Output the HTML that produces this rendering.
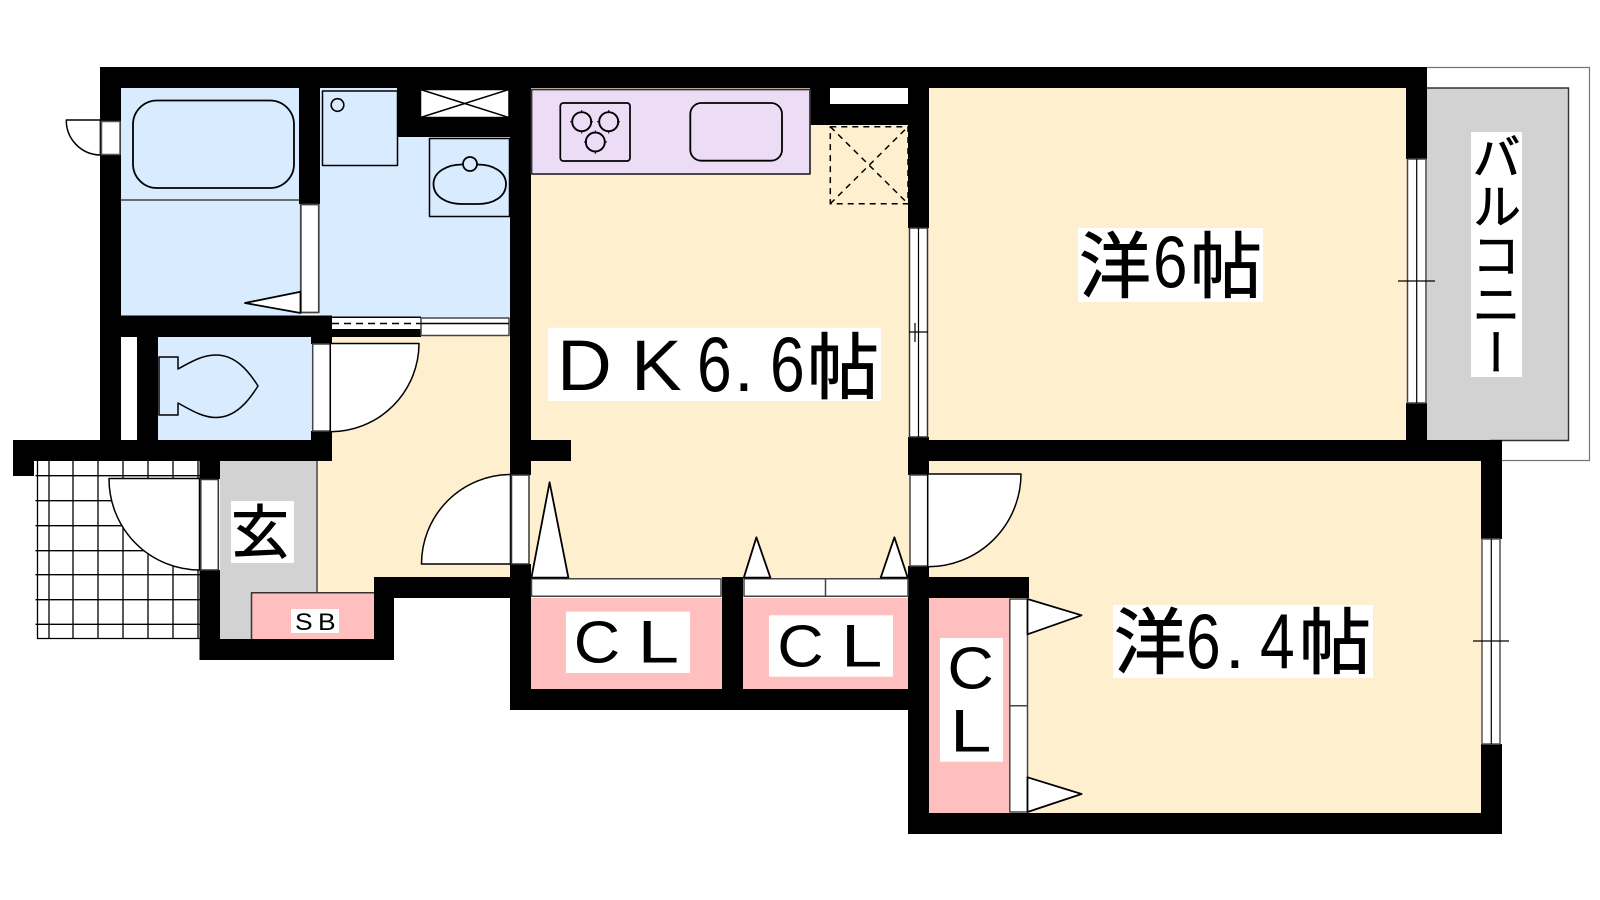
<!DOCTYPE html>
<html lang="ja"><head><meta charset="utf-8"><title>間取り図</title>
<style>
html,body{margin:0;padding:0;background:#fff;width:1600px;height:900px;overflow:hidden}
svg{display:block;position:absolute;left:0;top:0}
.l{font-family:"Liberation Sans",sans-serif;fill:#000}
.j{font-family:"Liberation Sans","Noto Sans CJK JP",sans-serif;fill:#000;stroke:#000;stroke-width:.9}
.v{position:absolute;left:1471px;top:132px;width:51px;height:245px;background:#fff;writing-mode:vertical-rl;font:49px/51px "Noto Sans CJK JP",sans-serif;color:#000;-webkit-text-stroke:.8px #000;text-align:center;white-space:nowrap;overflow:hidden}
</style></head><body>
<svg width="1600" height="900" viewBox="0 0 1600 900" xmlns="http://www.w3.org/2000/svg">
<!-- room fills -->
<g stroke="none">
<rect x="121" y="88" width="180" height="229" fill="#d9ebff"/>
<rect x="320" y="88" width="190" height="229" fill="#d9ebff"/>
<rect x="158" y="336" width="154" height="105" fill="#d9ebff"/>
<rect x="317" y="336" width="194" height="242" fill="#fef0cf"/>
<rect x="317" y="570" width="58" height="24" fill="#fef0cf"/>
<rect x="220" y="460" width="97" height="180" fill="#d2d2d2"/>
<rect x="530" y="88" width="380" height="490" fill="#fef0cf"/>
<rect x="928" y="88" width="480" height="353" fill="#fef0cf"/>
<rect x="928" y="460" width="554" height="118" fill="#fef0cf"/>
<rect x="1028" y="577" width="454" height="237" fill="#fef0cf"/>
<rect x="530" y="598" width="192" height="92" fill="#ffbfbf"/>
<rect x="743" y="598" width="165" height="92" fill="#ffbfbf"/>
<rect x="928" y="598" width="81" height="215" fill="#ffbfbf"/>
<rect x="1427" y="88" width="141" height="352" fill="#d2d2d2"/>
</g>
<!-- balcony outlines -->
<path d="M1427 67.500H1589.500V460.500H1502" fill="none" stroke="#777" stroke-width="1.200"/>
<path d="M1427 88H1568.500V440.500H1490" fill="none" stroke="#333" stroke-width="1.400"/>
<!-- tile grid -->
<g stroke="#000" stroke-width="1.300" fill="none">
<path d="M37.500 461V638.500H200M49 461V638M73 461V638M98 461V638M123 461V638M148 461V638M173 461V638M198 461V638"/>
<path d="M35.500 475.700H200M35.500 500.700H200M35.500 525.700H200M35.500 550.700H200M35.500 574.700H200M35.500 599.700H200M35.500 624.300H200"/>
</g>
<!-- walls -->
<g fill="#000" stroke="none">
<rect x="100" y="67" width="1327" height="21"/>
<rect x="100" y="67" width="21" height="394"/>
<rect x="299" y="67" width="21" height="137"/>
<rect x="397" y="67" width="113" height="70"/>
<rect x="510" y="67" width="21" height="408"/>
<rect x="510" y="564" width="21" height="146"/>
<rect x="510" y="440" width="61" height="21"/>
<rect x="810" y="67" width="98" height="58"/>
<rect x="908" y="67" width="21" height="161"/>
<rect x="908" y="437" width="21" height="38"/>
<rect x="908" y="566" width="21" height="268"/>
<rect x="1406" y="67" width="21" height="92"/>
<rect x="1406" y="403" width="21" height="38"/>
<rect x="908" y="440" width="594" height="21"/>
<rect x="1481" y="440" width="21" height="99"/>
<rect x="1481" y="744" width="21" height="90"/>
<rect x="908" y="813" width="594" height="21"/>
<rect x="928" y="577" width="101" height="21"/>
<rect x="100" y="315.500" width="232" height="21.500"/>
<rect x="332" y="329" width="89" height="8"/>
<rect x="311" y="316" width="21" height="28"/>
<rect x="137" y="337" width="21" height="104"/>
<rect x="13" y="440" width="319" height="21"/>
<rect x="13" y="440" width="21" height="36"/>
<rect x="311" y="431" width="21" height="30"/>
<rect x="199.500" y="461" width="20.500" height="18"/>
<rect x="199.500" y="570" width="20.500" height="90"/>
<rect x="199.500" y="639" width="194.500" height="21"/>
<rect x="374" y="577" width="20" height="83"/>
<rect x="374" y="577" width="136" height="21"/>
<rect x="510" y="689" width="398" height="21"/>
<rect x="722" y="577" width="21" height="113"/>
</g>
<!-- fixtures, doors -->
<g fill="#fff" stroke="#000" stroke-width="1.500" stroke-linejoin="round">
<path d="M100.400 120H66.300A34.500 34.500 0 0 0 100.400 155Z"/>
<rect x="101.500" y="121.500" width="18.500" height="33" stroke="#555"/>
<path d="M121 200H299" stroke="#444"/>
<rect x="133" y="100.500" width="161" height="87.500" rx="24" fill="none" stroke-width="1.800"/>
<rect x="300.800" y="204.500" width="18" height="108" stroke="#444" stroke-width="1.800"/>
<path d="M245 303L300.500 291.700V313Z" stroke-width="1.800"/>
<rect x="322.500" y="91" width="75" height="74.500" fill="none" stroke-width="1.500"/>
<circle cx="337.500" cy="105" r="6.300" fill="none" stroke-width="1.600"/>
<rect x="420.500" y="89.500" width="88.500" height="28"/>
<path d="M420.500 89.500L509 117.500M420.500 117.500L509 89.500" fill="none" stroke-width="1.500"/>
<rect x="429.500" y="138.500" width="80" height="78" fill="none"/>
<path d="M433.500 184C433.500 172 447 164.500 462 164.500H478C493 164.500 506 172 506 184C506 197 493 204 478 204H462C447 204 433.500 197 433.500 184Z" fill="none" stroke-width="1.800"/>
<circle cx="470" cy="164" r="7" fill="#d9ebff" stroke-width="1.800"/>
<rect x="332" y="317" width="89" height="12" stroke="none"/>
<rect x="421" y="318" width="88" height="17.500" stroke="#444"/>
<path d="M332 317.300H421M421 323.500H509" fill="none"/>
<path d="M332 323.500H421" fill="none" stroke-dasharray="7 5"/>
<path d="M159 357V415H178V403C194 412 204 417.500 216 417.500C235 417.500 248 402 258 386C248 370 235 355 216 355C204 355 194 360 178 369V357Z" fill="none" stroke-width="1.500"/>
<rect x="312.700" y="344" width="17.500" height="87" stroke="#444"/>
<path d="M330.300 343.500H419A88.500 88.500 0 0 1 330.300 431.700Z"/>
<path d="M199.500 478.500H109A91 91 0 0 0 199.500 570Z"/>
<rect x="200.800" y="479.500" width="17.500" height="90.500" stroke="#333"/>
<path d="M317 461V592.500" fill="none" stroke="#444"/>
<rect x="252" y="593" width="122" height="46" fill="#ffbfbf" stroke="none"/>
<path d="M251.500 639V592.700H374" fill="none" stroke="#333"/>
<path d="M510.500 474.500A89.500 89.500 0 0 0 421.500 564H510.500Z"/>
<rect x="511.500" y="475" width="17.500" height="89" stroke="#333"/>
<rect x="531.500" y="89.500" width="278.500" height="84.500" fill="#eddcf5" stroke="#333" stroke-width="1.800"/>
<rect x="560.300" y="103" width="69.700" height="58" rx="3" fill="none" stroke-width="1.700"/>
<g fill="none" stroke-width="1.900"><circle cx="581.700" cy="121.700" r="9.500"/><circle cx="608.700" cy="121.700" r="9.500"/><circle cx="595.300" cy="142" r="9.500"/></g>
<path d="M570 121.700h3M590 121.700h3M581.700 110v3M581.700 130.500v3M597 121.700h3M617 121.700h3M608.700 110v3M608.700 130.500v3M584 142h3M604 142h3M595.300 130.500v3M595.300 151v3" fill="none" stroke-width="1"/>
<rect x="690.300" y="103" width="91.700" height="57.700" rx="11" fill="none" stroke-width="1.800"/>
<rect x="830" y="88" width="78" height="16" stroke="none"/>
<g fill="none" stroke-width="1.500" stroke-dasharray="6 5">
<rect x="830.300" y="126.700" width="77.700" height="77"/>
<path d="M830.300 126.700L908 203.700M830.300 203.700L908 126.700"/>
</g>
<rect x="909.500" y="228" width="18" height="209" stroke="#333"/>
<path d="M918.500 228V437M915 323V342M909 332H928" fill="none" stroke-width="1.200"/>
<rect x="1407.500" y="159" width="18.500" height="244" stroke="#444"/>
<path d="M1416.700 159V403M1398 281H1435" fill="none" stroke-width="1.200"/>
<rect x="1482" y="539" width="18" height="205" stroke="#555"/>
<path d="M1491.300 539V744M1473 641H1509" fill="none" stroke-width="1.200"/>
<rect x="531.500" y="578.700" width="189.500" height="17.500" stroke="#444"/>
<rect x="744" y="578.700" width="164" height="17.500" stroke="#444"/>
<path d="M825.500 578.700V596.200" stroke="#444"/>
<rect x="1009.800" y="599" width="17.700" height="213" stroke="#444"/>
<path d="M1009.800 705.700H1027.500" stroke="#444"/>
<path d="M531.400 577.700L549.600 482.300L568.400 577.700Z" stroke-width="1.800"/>
<path d="M743.800 577.700L756.400 537.300L770.400 577.700Z" stroke-width="1.800"/>
<path d="M880.700 577.700L894.400 537.300L907.700 577.700Z" stroke-width="1.800"/>
<rect x="910" y="475" width="17.700" height="91" stroke="#444"/>
<path d="M927.700 474H1021A93 93 0 0 1 927.700 566.700Z"/>
<path d="M1027.500 599L1081.600 615.300L1027.500 634.300Z" stroke-width="1.800"/>
<path d="M1027.500 777.300L1081.600 794L1027.500 812Z" stroke-width="1.800"/>
</g>
<!-- label boxes -->
<g fill="#fff" stroke="none">
<rect x="1078" y="228" width="185" height="74"/>
<rect x="548" y="327.700" width="333" height="73.300"/>
<rect x="1113" y="605" width="260" height="73"/>
<rect x="231" y="501" width="63" height="62"/>
<rect x="291" y="609" width="48" height="24"/>
<rect x="566" y="611.700" width="124" height="61.300"/>
<rect x="769" y="615.300" width="124" height="61.400"/>
<rect x="940" y="638" width="63" height="123.700"/>
</g>
<!-- labels -->
<text class="j" x="1079" y="292" font-size="72">洋</text>
<text class="l" transform="translate(1153,287.500) scale(.85,1)" font-size="73">6</text>
<text class="j" x="1190" y="292" font-size="72">帖</text>

<text class="l" transform="translate(557,390) scale(1.07,1)" font-size="71">D</text>
<text class="l" transform="translate(631,390) scale(1.07,1)" font-size="71">K</text>
<text class="l" transform="translate(697,391) scale(.8,1)" font-size="78">6</text>
<text class="l" x="734" y="391" font-size="71">.</text>
<text class="l" transform="translate(770,391) scale(.8,1)" font-size="78">6</text>
<text class="j" x="807" y="393" font-size="72">帖</text>

<text class="j" x="1114" y="668" font-size="72">洋</text>
<text class="l" transform="translate(1186,668) scale(.8,1)" font-size="78">6</text>
<text class="l" x="1225" y="668" font-size="71">.</text>
<text class="l" transform="translate(1260,668) scale(.8,1)" font-size="78">4</text>
<text class="j" x="1299" y="668" font-size="72">帖</text>

<text class="j" x="231" y="553" font-size="58">玄</text>
<text class="l" transform="translate(295,630) scale(1.1,1)" font-size="24">S</text>
<text class="l" transform="translate(318,630) scale(1.1,1)" font-size="24">B</text>

<text class="l" transform="translate(573.800,662.700) scale(1.09,1)" font-size="59">C</text>
<text class="l" transform="translate(637.600,662.700) scale(1.24,1)" font-size="60">L</text>
<text class="l" transform="translate(777.200,666.400) scale(1.09,1)" font-size="59">C</text>
<text class="l" transform="translate(841,666.400) scale(1.24,1)" font-size="60">L</text>
<text class="l" transform="translate(947.400,688.500) scale(1.09,1)" font-size="59">C</text>
<text class="l" transform="translate(950,751.700) scale(1.24,1)" font-size="60">L</text>
</svg>
<div class="v">バルコニー</div>
</body></html>
